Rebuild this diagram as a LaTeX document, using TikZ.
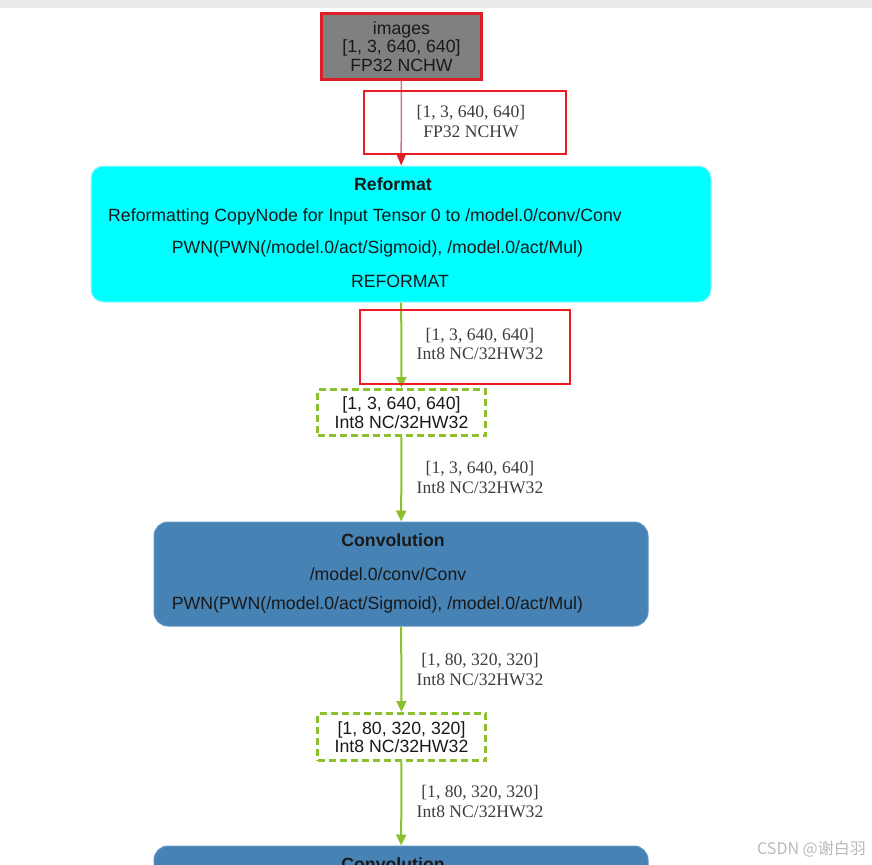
\documentclass[tikz,border=0pt]{standalone}
\usepackage{fontspec}
\setmainfont{Liberation Serif}
\setsansfont{Liberation Sans}
\newfontfamily\cjkfont{Noto Sans CJK SC}
\usetikzlibrary{arrows.meta}
\definecolor{imgred}{RGB}{220,30,40}
\definecolor{imggray}{RGB}{128,128,128}
\definecolor{annred}{RGB}{237,28,36}
\definecolor{pinkline}{RGB}{205,120,130}
\definecolor{tgreen}{RGB}{140,192,45}
\definecolor{refcyan}{RGB}{0,255,255}
\definecolor{refborder}{RGB}{170,245,250}
\definecolor{convblue}{RGB}{70,130,180}
\definecolor{convborder}{RGB}{100,150,195}
\definecolor{txtdark}{RGB}{25,25,25}
\definecolor{labgray}{RGB}{60,60,60}
\definecolor{wmgray}{RGB}{185,185,185}
\definecolor{topstrip}{RGB}{234,234,234}
\tikzset{
  nodefont/.style={font=\sffamily\fontsize{17.7}{18.6}\selectfont, text=txtdark},
  labfont/.style={font=\rmfamily\fontsize{17.6}{19.6}\selectfont, text=labgray, align=center, inner sep=0pt},
  linetext/.style={nodefont, inner sep=0pt, anchor=center},
  imgbox/.style={draw=imgred, fill=imggray, line width=3pt, minimum width=160pt, minimum height=66pt, nodefont, align=center, inner sep=0pt},
  refbox/.style={draw=refborder, fill=refcyan, line width=1pt, rounded corners=12pt, minimum width=620pt, minimum height=136pt},
  convbox/.style={draw=convborder, fill=convblue, line width=1pt, rounded corners=14pt, minimum width=494pt, minimum height=104pt},
  tensorbox/.style={draw=tgreen, dash pattern=on 7pt off 4pt, line width=3pt, minimum width=168pt, nodefont, align=center, inner sep=0pt},
  redflow/.style={draw=pinkline, line width=1.5pt, -{Triangle[length=11pt,width=9pt,fill=imgred,color=imgred]}},
  greenflow/.style={draw=tgreen, line width=2pt, -{Triangle[length=11pt,width=10pt]}},
  annbox/.style={draw=annred, line width=2.4pt},
}
\begin{document}
\begin{tikzpicture}[x=1pt,y=-1pt]
\useasboundingbox (0,0) rectangle (872,864);
\clip (0,0) rectangle (872,864);
\fill[topstrip] (0,0) rectangle (872,8);

% nodes
\node[imgbox] (img) at (401.5,46.5) {images\\{}[1, 3, 640, 640]\\FP32 NCHW};
\node[refbox] (ref) at (401,234) {};
\node[linetext, font=\sffamily\bfseries\fontsize{17.7}{18.6}\selectfont] (refT) at (393,184) {Reformat};
\node[linetext] (refA) at (365,217) {Reformatting CopyNode for Input Tensor 0 to /model.0/conv/Conv};
\node[linetext] (refB) at (377.5,249) {PWN(PWN(/model.0/act/Sigmoid), /model.0/act/Mul)};
\node[linetext] (refC) at (400,281) {REFORMAT};

\node[tensorbox, minimum height=46pt] (t1) at (401.5,412.5) {{}[1, 3, 640, 640]\\Int8 NC/32HW32};

\node[convbox] (conv) at (401,574) {};
\node[linetext, font=\sffamily\bfseries\fontsize{17.7}{18.6}\selectfont] (convT) at (393,540) {Convolution};
\node[linetext] (convA) at (388,574) {/model.0/conv/Conv};
\node[linetext] (convB) at (377.5,605) {PWN(PWN(/model.0/act/Sigmoid), /model.0/act/Mul)};

\node[tensorbox, minimum height=47pt] (t2) at (401.5,737) {{}[1, 80, 320, 320]\\Int8 NC/32HW32};

\node[convbox] (conv2) at (401,898) {};
\node[linetext, font=\sffamily\bfseries\fontsize{17.7}{18.6}\selectfont] (conv2T) at (393,864) {Convolution};

% edges
\draw[redflow] (img) -- (ref);
\draw[greenflow] (ref) -- (t1);
\draw[greenflow] (t1) -- (conv);
\draw[greenflow] (conv) -- (t2);
\draw[greenflow] (t2) -- (conv2);

% edge labels
\node[labfont] (l1) at (471,121.5) {{}[1, 3, 640, 640]\\FP32 NCHW};
\node[labfont] (l2) at (480,344) {{}[1, 3, 640, 640]\\Int8 NC/32HW32};
\node[labfont] (l3) at (480,477.5) {{}[1, 3, 640, 640]\\Int8 NC/32HW32};
\node[labfont] (l4) at (480,669.5) {{}[1, 80, 320, 320]\\Int8 NC/32HW32};
\node[labfont] (l5) at (480,801.5) {{}[1, 80, 320, 320]\\Int8 NC/32HW32};

% annotation boxes
\draw[annbox] (364,91) rectangle (566,154);
\draw[annbox] (360,310) rectangle (570,384);

% watermark
\node[font=\cjkfont\fontsize{16}{18}\selectfont, text=wmgray, inner sep=0pt] (wm) at (811.5,849) {CSDN @谢白羽};
\end{tikzpicture}
\end{document}
